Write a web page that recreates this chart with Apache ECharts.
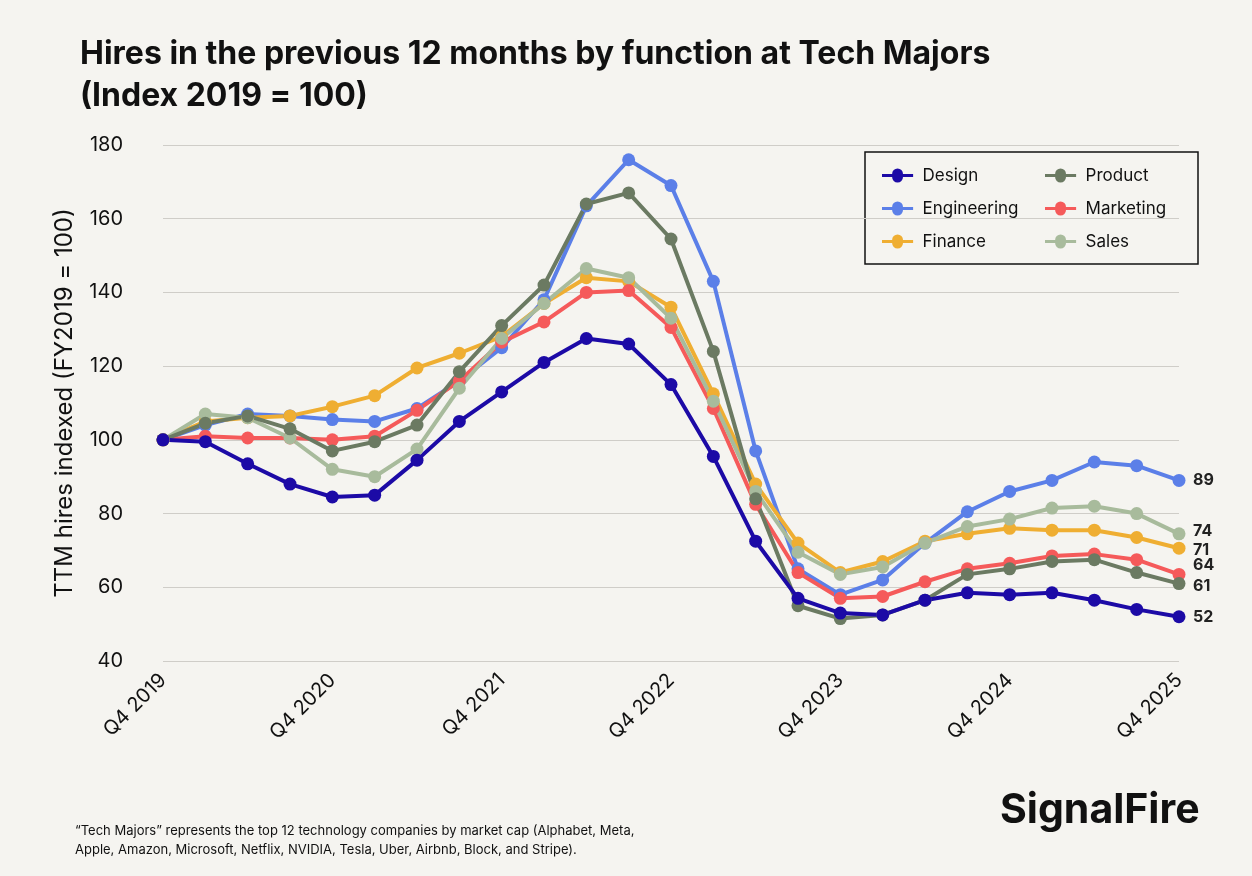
<!DOCTYPE html>
<html><head><meta charset="utf-8">
<script src="https://cdn.jsdelivr.net/npm/echarts@6/dist/echarts.min.js"></script>
<style>html,body{margin:0;padding:0;background:#f5f4f0}#c{width:1252px;height:876px}</style>
</head><body><div id="c"></div>
<script>
const quarters=[];
for(let y=2019;y<=2025;y++){for(let q=1;q<=4;q++){if(y===2019&&q<4)continue;quarters.push('Q'+q+' '+y);}}
const design=[100,99.5,93.5,88,84.5,85,94.5,105,113,121,127.5,126,115,95.5,72.5,57,53,52.5,56.5,58.5,58,58.5,56.5,54,52];
const engineering=[100,104,107,106.5,105.5,105,108.5,116,125,138,163.5,176,169,143,97,65,58,62,72,80.5,86,89,94,93,89];
const finance=[100,105,106,106.5,109,112,119.5,123.5,128,137,144,143,136,112.5,88,72,64,67,72.5,74.5,76,75.5,75.5,73.5,70.6];
const product=[100,104.5,106.5,103,97,99.5,104,118.5,131,142,164,167,154.5,124,84,55,51.5,52.5,56.5,63.5,65,67,67.5,64,61];
const marketing=[100,101,100.5,100.5,100,101,108,116,126.5,132,140,140.5,130.5,108.5,82.5,64,57,57.5,61.5,65,66.5,68.5,69,67.5,63.5];
const sales=[100,107,106,100.5,92,90,97.5,114,127.5,137,146.5,144,133,110.5,86,69.5,63.5,65.5,72,76.5,78.5,81.5,82,80,74.5];
const endLabels={Design:'52',Engineering:'89',Finance:'71',Product:'61',Marketing:'64',Sales:'74'};
const labelOffsets={Marketing:[0,-9],Product:[0,3],Sales:[0,-3],Finance:[0,2]};
const defs=[['Engineering',engineering,'#5b7fe8'],['Finance',finance,'#efae32'],['Marketing',marketing,'#f55a5a'],['Sales',sales,'#a8bb9c'],['Product',product,'#6b7a62'],['Design',design,'#1c0aa6']];
const series=defs.map(([n,d,c])=>({name:n,type:'line',data:d,symbol:'circle',symbolSize:13,
 lineStyle:{width:4,color:c},itemStyle:{color:c},
 endLabel:{show:true,formatter:()=>endLabels[n],color:'#222',fontWeight:'bold',fontSize:16,fontFamily:'Inter',distance:14,offset:labelOffsets[n]||[0,0]}}));
const legStyle={textStyle:{fontSize:17,fontFamily:'Inter',color:'#111'},itemWidth:40,itemHeight:14,itemGap:16,orient:'vertical',top:162,icon:'path://M0,5 L13,5 A7,7 0 1 1 27,5 L40,5 L40,9 L27,9 A7,7 0 1 1 13,9 L0,9 Z'};
const chart=echarts.init(document.getElementById('c'));
chart.setOption({
 backgroundColor:'#f5f4f0',
 title:{text:'Hires in the previous 12 months by function at Tech Majors\n(Index 2019 = 100)',left:75,top:28,textStyle:{fontSize:32,fontWeight:'bold',fontFamily:'Inter',color:'#111',lineHeight:42}},
 legend:[Object.assign({left:877,data:['Design','Engineering','Finance']},legStyle),Object.assign({left:1040,data:['Product','Marketing','Sales']},legStyle)],
 grid:{left:163,right:73,top:145,bottom:215},
 xAxis:{type:'category',data:quarters,boundaryGap:false,axisLine:{show:false},axisTick:{show:false},
  axisLabel:{interval:3,rotate:45,fontSize:20,fontFamily:'Inter',color:'#111',margin:16}},
 yAxis:{type:'value',min:40,max:180,interval:20,name:'TTM hires indexed (FY2019 = 100)',nameLocation:'middle',nameGap:86,nameRotate:90,
  nameTextStyle:{fontSize:24,fontFamily:'Inter',color:'#111'},
  axisLabel:{fontSize:20,fontFamily:'Inter',color:'#111',margin:40},splitLine:{lineStyle:{color:'#cfcdc8'}}},
 graphic:[
  {type:'rect',shape:{x:865,y:152,width:333,height:112},style:{fill:'#f5f4f0',stroke:'#111',lineWidth:1.5},z:-1},
  {type:'text',left:75,top:822,style:{text:'“Tech Majors” represents the top 12 technology companies by market cap (Alphabet, Meta,\nApple, Amazon, Microsoft, Netflix, NVIDIA, Tesla, Uber, Airbnb, Block, and Stripe).',fontSize:13,lineHeight:19,fontFamily:'Inter',fill:'#111'}},
  {type:'text',left:1000,top:790,style:{text:'SignalFire',fontSize:41,fontWeight:'bold',fontFamily:'Inter',fill:'#111'}}
 ],
 series:series
});
</script></body></html>
